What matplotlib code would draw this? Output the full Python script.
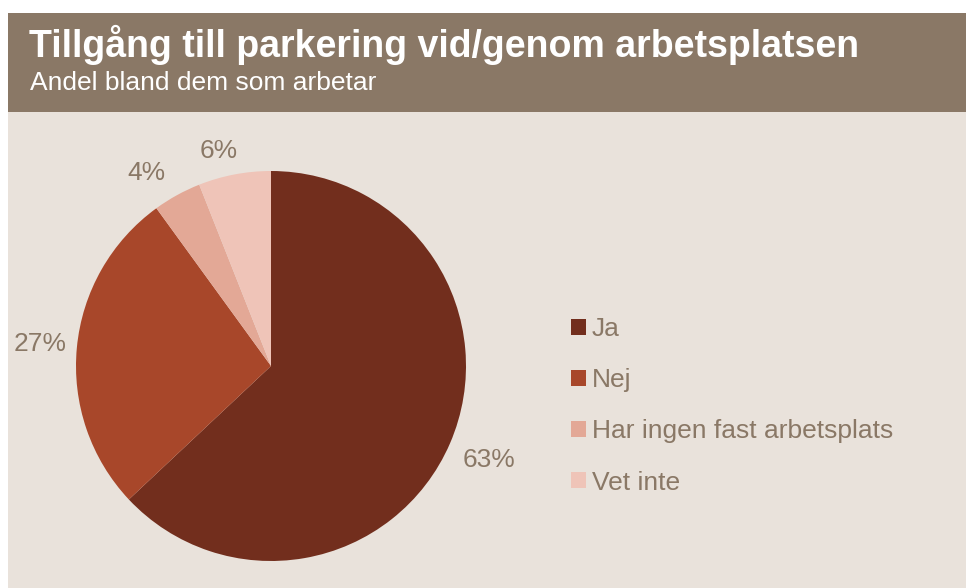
import matplotlib
matplotlib.use("Agg")
import matplotlib.pyplot as plt
from matplotlib.patches import Rectangle, Patch
import numpy as np

plt.rcParams['font.family'] = ['Liberation Sans', 'DejaVu Sans']

title = "Tillgång till parkering vid/genom arbetsplatsen"
subtitle = "Andel bland dem som arbetar"
categories = ["Ja", "Nej", "Har ingen fast arbetsplats", "Vet inte"]
values = [63, 27, 4, 6]
colors = ["#722E1D", "#A8472A", "#E3A896", "#EFC4B8"]
# label placement (distance in radii, angular nudge in degrees)
label_dist = [1.22, 1.19, 1.18, 1.135]
label_nudge = [0, 0, 4, 3]

W, H = 966, 588
fig = plt.figure(figsize=(W / 100, H / 100), dpi=100)
fig.patch.set_facecolor("white")

def fx(px): return px / W
def fy(py): return 1 - py / H

header_col = "#8A7866"
bg_col = "#E9E2DB"
text_col = "#8A7866"

fig.patches.append(Rectangle((fx(8), 0), 1 - fx(8), fy(112), transform=fig.transFigure,
                             facecolor=bg_col, edgecolor="none", zorder=-10))
fig.patches.append(Rectangle((fx(8), fy(112)), 1 - fx(8), fy(13) - fy(112), transform=fig.transFigure,
                             facecolor=header_col, edgecolor="none", zorder=-10))

fig.text(fx(29), fy(57), title, fontsize=27, fontweight="bold", color="white", va="baseline", ha="left")
fig.text(fx(30), fy(90), subtitle, fontsize=19, color="white", va="baseline", ha="left")

cx, cy, r = 271, 366, 195
ax = fig.add_axes([fx(cx - r), fy(cy + r), (2 * r) / W, (2 * r) / H])
ax.set_facecolor("none")
wedges, _ = ax.pie(values, colors=colors, startangle=90, counterclock=False,
                   wedgeprops=dict(linewidth=0))
ax.set_xlim(-1, 1)
ax.set_ylim(-1, 1)
ax.set_aspect("equal")
ax.axis("off")

total = sum(values)
for w, v, d, n in zip(wedges, values, label_dist, label_nudge):
    ang = np.deg2rad((w.theta1 + w.theta2) / 2 + n)
    ax.text(d * np.cos(ang), d * np.sin(ang), f"{round(v / total * 100)}%",
            ha="center", va="center", fontsize=19, color=text_col, clip_on=False)

handles = [Patch(facecolor=c, edgecolor="none") for c in colors]
leg = fig.legend(handles, categories, loc="upper left", bbox_to_anchor=(fx(571), fy(317)),
                 frameon=False, fontsize=19, handlelength=0.55, handleheight=0.55,
                 handletextpad=0.25, labelspacing=1.03, borderaxespad=0, borderpad=0)
for t in leg.get_texts():
    t.set_color(text_col)

fig.savefig("out.png", dpi=100, facecolor=fig.get_facecolor())
